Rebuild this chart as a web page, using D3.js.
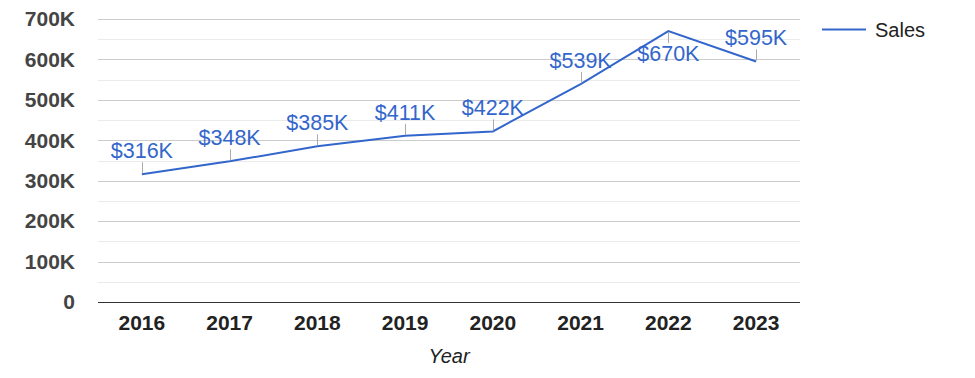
<!DOCTYPE html>
<html>
<head>
<meta charset="utf-8">
<script src="https://cdn.jsdelivr.net/npm/d3@7"></script>
<style>
  body { margin: 0; background: #fff; }
  svg { font-family: "Liberation Sans", Arial, sans-serif; }
</style>
</head>
<body>
<div id="chart"></div>
<script>
// data
const years = ["2016", "2017", "2018", "2019", "2020", "2021", "2022", "2023"];
const sales = [316000, 348000, 385000, 411000, 422000, 539000, 670000, 595000];
const yTicks = [0, 100000, 200000, 300000, 400000, 500000, 600000, 700000];
const seriesName = "Sales";
const xTitle = "Year";

const width = 975, height = 378;
const margin = {top: 19, right: 175, bottom: 76, left: 98};
const plotW = width - margin.left - margin.right,
      plotH = height - margin.top - margin.bottom;
const blue = "#3366cc";

const svg = d3.select("#chart").append("svg")
  .attr("width", width)
  .attr("height", height);

const g = svg.append("g")
  .attr("transform", `translate(${margin.left}, ${margin.top})`);

const x = d3.scaleBand().domain(years).range([0, plotW]);
const y = d3.scaleLinear().domain([0, 700000]).range([plotH, 0]);

// minor gridlines
g.append("g").selectAll("line")
  .data(yTicks.slice(0, -1).map(d => d + 50000))
  .join("line")
  .attr("x1", 0).attr("x2", plotW)
  .attr("y1", d => Math.round(y(d)) + 0.5).attr("y2", d => Math.round(y(d)) + 0.5)
  .attr("stroke", "#ebebeb");

// major gridlines
g.append("g").selectAll("line")
  .data(yTicks.slice(1))
  .join("line")
  .attr("x1", 0).attr("x2", plotW)
  .attr("y1", d => Math.round(y(d)) + 0.5).attr("y2", d => Math.round(y(d)) + 0.5)
  .attr("stroke", "#cccccc");

// baseline
g.append("line")
  .attr("x1", 0).attr("x2", plotW)
  .attr("y1", plotH + 0.5).attr("y2", plotH + 0.5)
  .attr("stroke", "#333");

// y axis labels
const yAxis = g.append("g")
  .call(d3.axisLeft(y).tickValues(yTicks).tickSize(0).tickPadding(23)
    .tickFormat(d => d === 0 ? "0" : (d / 1000) + "K"));
yAxis.select(".domain").remove();
yAxis.selectAll("text")
  .attr("font-family", "Liberation Sans, Arial, sans-serif")
  .attr("font-size", 21).attr("font-weight", "bold").attr("fill", "#444");

// x axis labels
const xAxis = g.append("g")
  .attr("transform", `translate(0, ${plotH})`)
  .call(d3.axisBottom(x).tickSize(0).tickPadding(13));
xAxis.select(".domain").remove();
xAxis.selectAll("text")
  .attr("font-family", "Liberation Sans, Arial, sans-serif")
  .attr("font-size", 21).attr("font-weight", "bold").attr("fill", "#222");

// x title
g.append("text")
  .attr("x", plotW / 2).attr("y", plotH + 61)
  .attr("text-anchor", "middle")
  .attr("font-size", 20).attr("font-style", "italic").attr("fill", "#222")
  .text(xTitle);

const cx = (d, i) => x(years[i]) + x.bandwidth() / 2;

// line
const line = d3.line()
  .x((d, i) => cx(d, i))
  .y(d => y(d));
g.append("path")
  .datum(sales)
  .attr("fill", "none")
  .attr("stroke", blue)
  .attr("stroke-width", 2)
  .attr("d", line);

// data labels with leader ticks
const labels = g.append("g").selectAll("g")
  .data(sales)
  .join("g");
const below = d => y(d) < 28;
labels.append("line")
  .attr("x1", (d, i) => Math.round(cx(d, i)) + 0.5)
  .attr("x2", (d, i) => Math.round(cx(d, i)) + 0.5)
  .attr("y1", d => y(d) + (below(d) ? 1 : -1))
  .attr("y2", d => y(d) + (below(d) ? 12 : -12))
  .attr("stroke", "#aaa");
labels.append("text")
  .attr("x", (d, i) => cx(d, i))
  .attr("y", d => below(d) ? y(d) + 30 : y(d) - 16)
  .attr("text-anchor", "middle")
  .attr("font-size", 21.5)
  .attr("fill", blue)
  .text(d => "$" + Math.round(d / 1000) + "K");

// legend
const legend = svg.append("g").attr("transform", "translate(822, 29.5)");
legend.append("line")
  .attr("x1", 0).attr("x2", 44)
  .attr("stroke", blue).attr("stroke-width", 2);
legend.append("text")
  .attr("x", 53).attr("y", 7)
  .attr("font-size", 20).attr("fill", "#222")
  .text(seriesName);
</script>
</body>
</html>
